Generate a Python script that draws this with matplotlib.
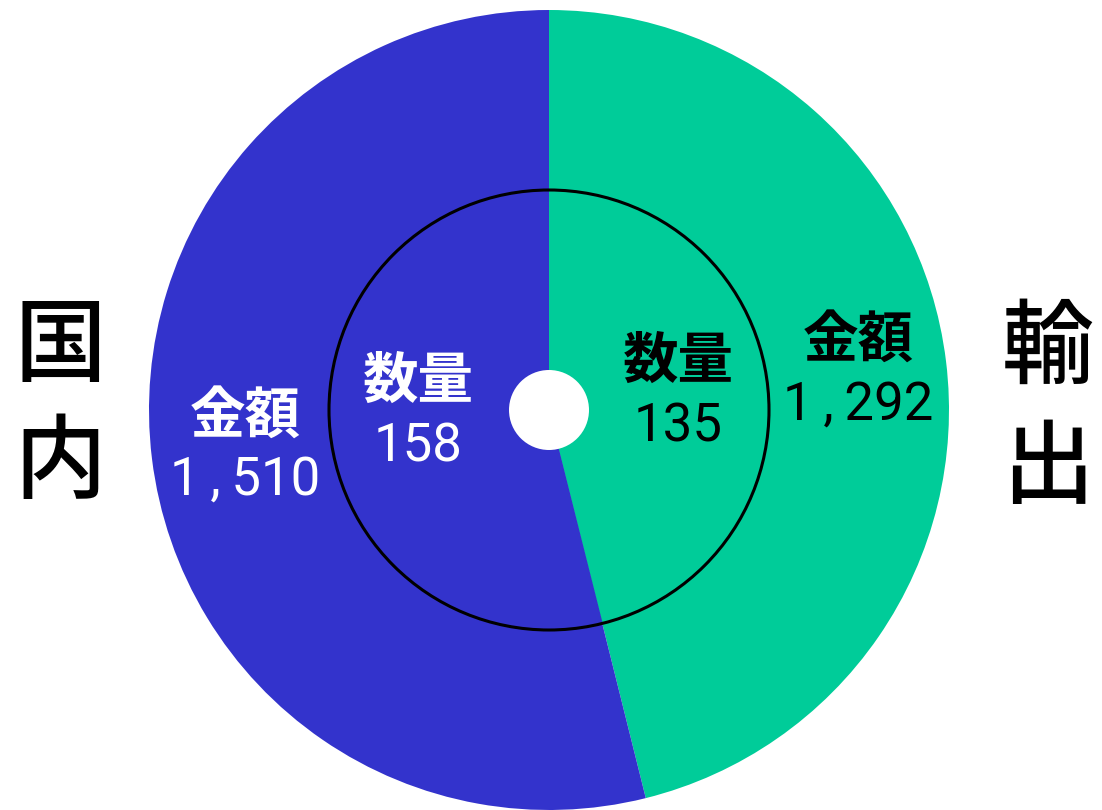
import matplotlib.pyplot as plt
from matplotlib.patches import Circle

# data
groups = ["国内", "輸出"]
amount = [1510, 1292]      # 金額
quantity = [158, 135]      # 数量
colors = ["#3333CC", "#00CC99"]
text_colors = ["white", "black"]

plt.rcParams['font.family'] = ['Noto Sans CJK JP', 'DejaVu Sans']

fig = plt.figure(figsize=(11.02, 8.10), dpi=100)
ax = fig.add_axes([0, 0, 1, 1])

cx, cy = 549, 400

# pie goes clockwise from top: export first on the right
order = [1, 0]
ax.pie([amount[i] for i in order], colors=[colors[i] for i in order],
       radius=400, center=(cx, cy), startangle=90, counterclock=False,
       wedgeprops=dict(linewidth=0), frame=True)
ax.pie([quantity[i] for i in order], colors=[colors[i] for i in order],
       radius=220, center=(cx, cy), startangle=90, counterclock=False,
       wedgeprops=dict(linewidth=0), frame=True)
ax.add_patch(Circle((cx, cy), 220, fill=False, edgecolor="black", linewidth=2.2, zorder=5))
ax.add_patch(Circle((cx, cy), 40, facecolor="white", edgecolor="none", zorder=6))
ax.set_xlim(0, 1102)
ax.set_ylim(0, 810)
ax.set_aspect("equal")
ax.axis("off")

num_font = ['Roboto', 'DejaVu Sans']


def fmt(v):
    # wide comma like in the original
    return f"{v:,}".replace(",", "\u2009,\u2009")


# group names at the sides
for ch, y in zip(groups[0], [462, 345]):
    ax.text(60, y, ch, fontsize=66, ha="center", va="center", fontweight="medium")
for ch, y in zip(groups[1], [460, 340]):
    ax.text(1048, y, ch, fontsize=66, ha="center", va="center", fontweight="medium")

# labels: (x, y for title, y for value)
outer_pos = [(245, 392, 330), (858, 468, 405)]
inner_pos = [(418, 428, 363), (678, 448, 383)]

for i in range(2):
    x, yt, yv = outer_pos[i]
    ax.text(x, yt, "金額", fontsize=40, fontweight="bold", color=text_colors[i],
            ha="center", va="center")
    ax.text(x, yv, fmt(amount[i]), fontsize=38, color=text_colors[i],
            ha="center", va="center", family=num_font)
    x, yt, yv = inner_pos[i]
    ax.text(x, yt, "数量", fontsize=40, fontweight="bold", color=text_colors[i],
            ha="center", va="center")
    ax.text(x, yv, fmt(quantity[i]), fontsize=38, color=text_colors[i],
            ha="center", va="center", family=num_font)

fig.savefig("out.png", dpi=100)
